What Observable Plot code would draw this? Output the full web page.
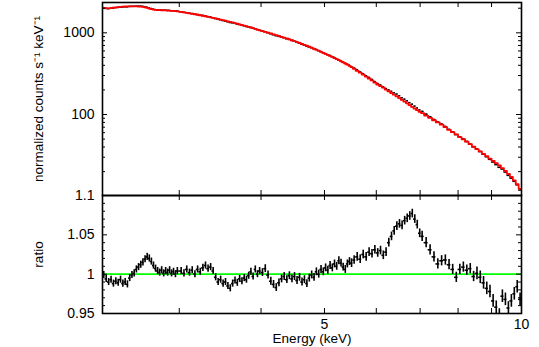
<!DOCTYPE html>
<html><head><meta charset="utf-8">
<script src="https://cdn.jsdelivr.net/npm/d3@7"></script>
<script src="https://cdn.jsdelivr.net/npm/@observablehq/plot@0.6"></script>
<style>
body{margin:0;background:#fff;}
#wrap{position:relative;width:539px;height:347px;}
#wrap svg{position:absolute;left:0;overflow:visible;}
</style></head><body><div id="wrap"></div>
<script>
// channel energies (keV, bin centres)
const energy = [
 2.30,2.32,2.34,2.36,2.38,2.40,2.42,2.44,2.46,2.48,2.50,2.52,2.54,2.56,2.58,2.60,2.62,2.64,2.66,2.68,
 2.70,2.72,2.74,2.76,2.78,2.80,2.82,2.84,2.86,2.88,2.90,2.92,2.94,2.96,2.98,
 3.02,3.05,3.08,3.11,3.14,3.17,3.20,3.23,3.26,3.29,3.32,3.35,3.38,3.41,3.44,3.47,3.50,3.53,3.56,3.59,
 3.62,3.65,3.68,3.71,3.74,3.77,3.80,3.83,3.86,3.89,3.92,3.95,3.98,
 4.02,4.06,4.10,4.14,4.18,4.22,4.26,4.30,4.34,4.38,4.42,4.46,4.50,4.54,4.58,4.62,4.66,4.70,4.74,4.78,
 4.82,4.86,4.90,4.94,4.98,5.02,5.06,5.10,5.14,5.18,5.22,5.26,5.30,5.34,5.38,5.42,5.46,5.50,
 5.55,5.61,5.67,5.73,5.79,5.85,5.91,5.97,6.03,6.09,6.15,6.21,6.27,6.33,6.39,6.45,6.51,6.57,6.63,6.69,
 6.75,6.81,6.87,6.93,6.99,
 7.05,7.15,7.25,7.35,7.45,7.55,7.65,7.75,7.85,7.95,8.05,8.15,8.25,8.35,8.45,
 8.55,8.65,8.75,8.85,8.95,9.05,9.15,9.25,9.35,9.45,9.55,9.65,9.75,9.85,9.95
];
// data / model ratio per channel
const ratio = [
 0.999,0.994,0.990,0.993,0.988,0.991,0.989,0.993,0.988,0.990,0.987,0.995,0.999,1.001,1.006,1.009,1.012,1.015,1.019,1.022,
 1.020,1.016,1.011,1.007,1.004,1.002,1.005,1.001,1.004,1.002,1.005,1.001,1.003,1.000,1.004,
 1.004,1.001,1.006,1.002,1.005,1.000,1.006,1.003,1.008,1.011,1.007,1.009,1.004,0.996,0.990,0.993,0.988,0.990,0.985,0.982,
 0.988,0.992,0.989,0.994,0.991,0.995,0.993,0.998,1.003,0.997,1.006,1.000,1.004,
 1.002,1.007,0.999,0.991,0.987,0.983,0.989,0.994,0.997,0.993,0.998,0.994,0.997,0.992,0.996,0.990,0.993,0.988,0.995,0.999,
 0.996,1.003,1.000,1.006,1.003,1.008,1.005,1.011,1.008,1.013,1.010,1.017,1.014,1.009,1.006,1.013,1.016,1.014,
 1.018,1.022,1.019,1.025,1.022,1.028,1.026,1.031,1.027,1.030,1.024,1.028,1.040,1.048,1.055,1.061,1.064,1.062,1.068,1.071,
 1.074,1.077,1.070,1.063,1.052,
 1.048,1.040,1.031,1.022,1.013,1.017,1.018,1.012,1.006,0.996,1.006,1.009,1.005,1.007,0.997,
 1.001,0.996,0.989,0.982,0.978,0.966,0.958,0.948,0.972,0.968,0.957,0.966,0.975,0.984,0.968
];
// folded model, normalized counts s^-1 keV^-1
const model = [
 2025,2000,1995,2010,2030,2050,2065,2080,2090,2100,2105,2110,2110,2108,2105,2100,2090,2075,2050,2015,
 1980,1950,1925,1910,1900,1895,1890,1885,1880,1875,1868,1860,1852,1843,1833,
 1804,1781,1757,1734,1711,1687,1664,1641,1617,1594,1571,1547,1524,1500,1477,1453,1430,1407,1384,1361,
 1339,1316,1293,1270,1247,1226,1204,1182,1161,1139,1117,1096,1074,
 1049,1026,1004,982,959,937,915,894,873,852,832,811,790,771,752,732,713,694,675,657,
 639,622,604,586,569,552,537,522,507,492,477,462,448,434,421,407,394,380,
 363,343,325,308,291,276,261,245,233,223,213,202,192,183,175,167,159,151,144,137,
 130,124,118,113,108,
 104,97,91,85,80,75,70,65,61,57,53,49.8,46.5,43.3,40.3,
 37.8,35.3,33.0,30.9,28.9,27.1,25.4,23.8,22.1,20.4,18.8,17.2,15.6,14.0,12.3
];
// relative 1-sigma errors by energy range
const errEdges = [2.29, 4, 5.5, 7, 8.5, 10];
const errValues = [0.0045, 0.005, 0.0055, 0.0065, 0.008];

const energyDomain = [2.29, 10];
const countDomain = [10.2, 2350];
const ratioDomain = [0.95, 1.1];
const energyTicks = [3, 4, 5, 6, 7, 8, 9];
const energyLabels = [5, 10];
const countTicks = [100, 1000];
const countMinor = [20,30,40,50,60,70,80,90,200,300,400,500,600,700,800,900,2000];
const ratioTicks = [0.95, 1, 1.05, 1.1];
const ratioMinor = [0.96,0.97,0.98,0.99,1.01,1.02,1.03,1.04,1.06,1.07,1.08,1.09];
const ratioLabels = ["0.95", "1", "1.05", "1.1"];

const n = Math.min(energy.length, ratio.length, model.length);
const rows = [];
for (let i = 0; i < n; i++) {
  const lo = i === 0 ? energyDomain[0] : (energy[i-1] + energy[i]) / 2;
  const hi = i === n-1 ? energyDomain[1] : (energy[i] + energy[i+1]) / 2;
  let k = 0; while (k < errValues.length-1 && energy[i] >= errEdges[k+1]) k++;
  const err = errValues[k];
  rows.push({e: energy[i], lo, hi, r: ratio[i], err, m: model[i], d: model[i]*ratio[i], de: model[i]*err});
}
const modelStep = rows.map(d => ({x: d.lo, y: d.m})).concat([{x: energyDomain[1], y: rows[n-1].m}]);

const W = 539, ML = 102, MR = 18, IW = W - ML - MR;
const font = "'Liberation Sans', Arial, Helvetica, sans-serif";
const style = {fontSize: "14px", fontFamily: font, background: "transparent", overflow: "visible", color: "black"};

function frameTicks(innerH, xMajor, yMajor, yMinor, yAcc) {
  const L = 5, l = 3;
  return [
    Plot.tickX(xMajor, {x: d => d, insetBottom: innerH - L, stroke: "black", strokeWidth: 1}),
    Plot.tickX(xMajor, {x: d => d, insetTop: innerH - L, stroke: "black", strokeWidth: 1}),
    Plot.tickY(yMajor, {y: yAcc, insetRight: IW - L, stroke: "black", strokeWidth: 1}),
    Plot.tickY(yMajor, {y: yAcc, insetLeft: IW - L, stroke: "black", strokeWidth: 1}),
    Plot.tickY(yMinor, {y: yAcc, insetRight: IW - l, stroke: "black", strokeWidth: 1}),
    Plot.tickY(yMinor, {y: yAcc, insetLeft: IW - l, stroke: "black", strokeWidth: 1})
  ];
}

const topH = 196, topMT = 2, topMB = 1, topIH = topH - topMT - topMB;
const topPlot = Plot.plot({
  width: W, height: topH, marginTop: topMT, marginBottom: topMB, marginLeft: ML, marginRight: MR,
  style,
  x: {type: "log", domain: energyDomain, axis: null},
  y: {type: "log", domain: countDomain, axis: null},
  marks: [
    Plot.ruleY(rows, {x1: "lo", x2: "hi", y: "d", stroke: "black", strokeWidth: 1.5, clip: true}),
    Plot.ruleX(rows, {x: "e", y1: d => d.d - d.de, y2: d => d.d + d.de, stroke: "black", strokeWidth: 1.5, clip: true}),
    Plot.line(modelStep, {x: "x", y: "y", curve: "step-after", stroke: "#ff0000", strokeWidth: 1.8, clip: true}),
    ...frameTicks(topIH, energyTicks, countTicks, countMinor, d => d),
    Plot.frame({stroke: "black", strokeWidth: 1.6}),
    Plot.text(countTicks, {y: d => d, frameAnchor: "left", dx: -8, textAnchor: "end", lineAnchor: "middle", text: d => String(d), fill: "black"}),
    Plot.text(["normalized counts s\u207B\u00B9 keV\u207B\u00B9"], {frameAnchor: "left", dx: -64, rotate: -90, textAnchor: "middle", lineAnchor: "middle", fontSize: 13.5, text: d => d, fill: "black"})
  ]
});

const botH = 152, botMT = 0, botMB = 34, botIH = botH - botMT - botMB;
const botPlot = Plot.plot({
  width: W, height: botH, marginTop: botMT, marginBottom: botMB, marginLeft: ML, marginRight: MR,
  style,
  x: {type: "log", domain: energyDomain, axis: null},
  y: {domain: ratioDomain, axis: null},
  marks: [
    Plot.ruleY([1], {stroke: "#00ff00", strokeWidth: 1.6}),
    Plot.ruleY(rows, {x1: "lo", x2: "hi", y: "r", stroke: "black", strokeWidth: 1.6, clip: true}),
    Plot.ruleX(rows, {x: "e", y1: d => d.r - d.err, y2: d => d.r + d.err, stroke: "black", strokeWidth: 1.6, clip: true}),
    ...frameTicks(botIH, energyTicks, ratioTicks, ratioMinor, d => d),
    Plot.frame({stroke: "black", strokeWidth: 1.6}),
    Plot.text(ratioTicks, {y: d => d, frameAnchor: "left", dx: -8, textAnchor: "end", lineAnchor: "middle", text: (d, i) => ratioLabels[i], fill: "black"}),
    Plot.text(energyLabels, {x: d => d, frameAnchor: "bottom", dy: 11, lineAnchor: "middle", textAnchor: "middle", text: d => String(d), fill: "black"}),
    Plot.text(["Energy (keV)"], {frameAnchor: "bottom", dy: 25, lineAnchor: "middle", textAnchor: "middle", fontSize: 13.5, text: d => d, fill: "black"}),
    Plot.text(["ratio"], {frameAnchor: "left", dx: -64, rotate: -90, textAnchor: "middle", lineAnchor: "middle", fontSize: 13.5, text: d => d, fill: "black"})
  ]
});

const wrap = document.getElementById("wrap");
topPlot.style.top = "0px";
botPlot.style.top = "195px";
wrap.appendChild(topPlot);
wrap.appendChild(botPlot);
</script>
</body></html>
